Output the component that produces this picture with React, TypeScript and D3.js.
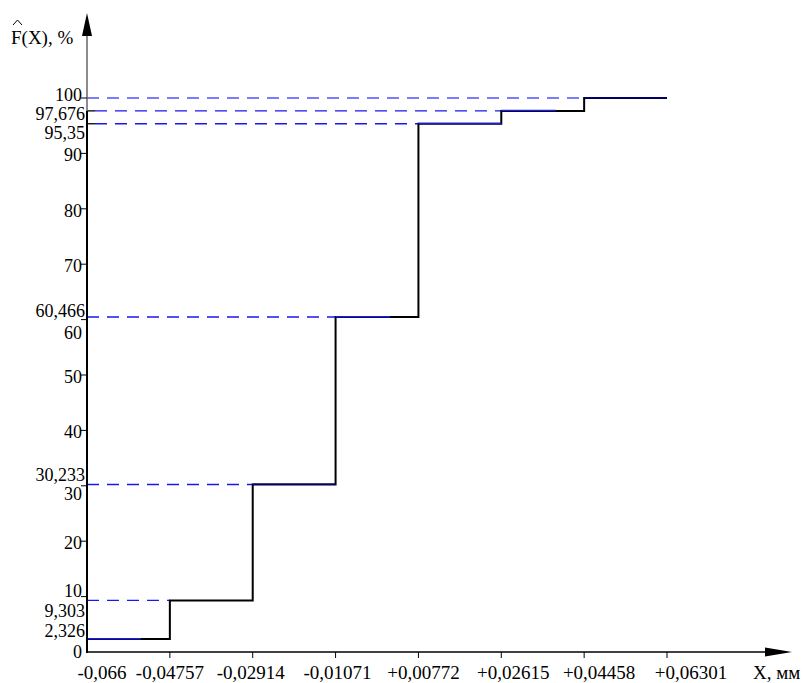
import React from 'react';
import * as d3 from 'd3';

// interval edges, mm
const xEdges = [-0.066, -0.04757, -0.02914, -0.01071, 0.00772, 0.02615, 0.04458, 0.06301];
const xLabels = ['-0,066', '-0,04757', '-0,02914', '-0,01071', '+0,00772', '+0,02615', '+0,04458', '+0,06301'];
// cumulative frequency on each interval, %
const cumFreq = [2.326, 9.303, 30.233, 60.466, 95.35, 97.676, 100];
const cumLabels = ['2,326', '9,303', '30,233', '60,466', '95,35', '97,676', '100'];
// where the blue overlay on each step ends (x units), null = none
const overlayEnd = [-0.054, null, -0.01071, 0.0014, 0.02615, 0.0383, 0.06301];
const yTicks = [0, 10, 20, 30, 40, 50, 60, 70, 80, 90, 100];

const W = 804;
const H = 683;
const FONT = "'Liberation Serif', 'Times New Roman', 'DejaVu Serif', serif";

// label nudges so neighbouring labels don't collide
const yTickDy: Record<number, number> = { 0: 0, 10: -6, 30: 8, 60: 13, 100: -3 };
const cumDy = [-8, 11, -10, -6, 9, 3, -1];
const xLabelDx = [15, 0, -2, 2, 5, 12, 15, 24];

export default function App() {
    const x = d3.scaleLinear().domain([-0.066, 0.06301]).range([87, 667]);
    const y = d3.scaleLinear().domain([0, 100]).range([652, 98]);
    const x0 = x(xEdges[0]);
    const y0 = y(0);

    // step polyline
    const pts: [number, number][] = [];
    cumFreq.forEach((v, i) => {
        pts.push([x(xEdges[i]), y(v)]);
        pts.push([x(xEdges[i + 1]), y(v)]);
    });
    const stepPath = d3.line()(pts) as string;

    return (
        <svg width={W} height={H} style={{ position: 'absolute', left: 0, top: 0, background: '#fff', fontFamily: FONT }}>
            {/* dashed guide lines */}
            {cumFreq.map((v, i) => i === 0 ? null : (
                <line key={'g' + i} x1={x0 + (i === 4 || i === 5 ? 8 : 0)} x2={x(xEdges[i])} y1={y(v)} y2={y(v)}
                    stroke={i === 6 ? '#5050ff' : '#1818f0'} strokeWidth={1.3} strokeDasharray="12 8" />
            ))}
            {/* short ticks at 97,676 and 95,35 */}
            {[4, 5].map(i => (
                <line key={'st' + i} x1={x0} x2={x0 + 8} y1={y(cumFreq[i])} y2={y(cumFreq[i])} stroke="#000" strokeWidth={1.3} />
            ))}

            {/* step function */}
            <path d={stepPath} fill="none" stroke="#000" strokeWidth={2} />
            {cumFreq.map((v, i) => {
                const e = overlayEnd[i];
                if (e === null) return null;
                return (
                    <line key={'o' + i} x1={x(xEdges[i])} x2={x(e)} y1={y(v) - 0.3} y2={y(v) - 0.3}
                        stroke={i === 6 || i === 2 ? '#000080' : '#1c1ce0'} strokeWidth={1.5} />
                );
            })}

            {/* y axis */}
            <line x1={x0} x2={x0} y1={y0 + 1} y2={y(97.676)} stroke="#000" strokeWidth={2} />
            <line x1={x0} x2={x0} y1={y(97.676)} y2={34} stroke="#666" strokeWidth={1.5} />
            <path d={`M${x0},13 L${x0 - 5},36 L${x0 + 5},36 Z`} fill="#000" />
            {yTicks.map(t => t === 0 ? null : (
                <line key={'yt' + t} x1={x0 - 6} x2={x0} y1={y(t)} y2={y(t)} stroke="#000" strokeWidth={1} />
            ))}
            {yTicks.map(t => (
                <text key={'yl' + t} x={x0 - 5} y={y(t) + (yTickDy[t] ?? 2)} textAnchor="end"
                    dominantBaseline="central" fontSize={18}>{t}</text>
            ))}
            {cumFreq.map((v, i) => i === 6 ? null : (
                <text key={'cl' + i} x={x0 - 2} y={y(v) + cumDy[i]} textAnchor="end"
                    dominantBaseline="central" fontSize={18}>{cumLabels[i]}</text>
            ))}

            {/* y title */}
            <text x={11} y={37} dominantBaseline="central" fontSize={19}>F(X), %</text>
            <path d="M13,25 L17.5,20 L22,25" fill="none" stroke="#000" strokeWidth={1} />

            {/* x axis */}
            <line x1={x0} x2={768} y1={y0} y2={y0} stroke="#000" strokeWidth={1.3} />
            <path d={`M792,${y0} L765,${y0 - 4.5} L765,${y0 + 4.5} Z`} fill="#000" />
            {xEdges.map((e, i) => i === 0 ? null : (
                <line key={'xt' + i} x1={x(e)} x2={x(e)} y1={y0} y2={y0 + 6} stroke="#000" strokeWidth={1} />
            ))}
            {xEdges.map((e, i) => (
                <text key={'xl' + i} x={x(e) + xLabelDx[i]} y={672} textAnchor="middle"
                    dominantBaseline="central" fontSize={19}>{xLabels[i]}</text>
            ))}
            <text x={753} y={672} dominantBaseline="central" fontSize={19}>X, мм</text>
        </svg>
    );
}
